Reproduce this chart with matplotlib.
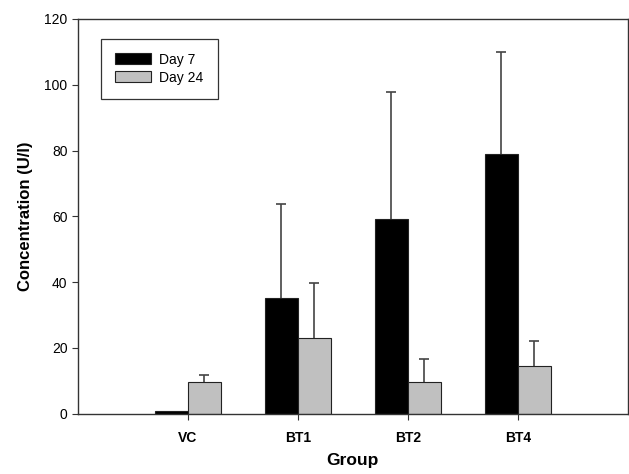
import numpy as np
import matplotlib.pyplot as plt

plt.rcParams["font.family"] = ["Liberation Sans", "DejaVu Sans"]

groups = ["VC", "BT1", "BT2", "BT4"]
day7 = [0.7, 35.3, 59.2, 79.0]
day7_err = [0.0, 28.5, 38.7, 31.0]
day24 = [9.8, 23.1, 9.8, 14.4]
day24_err = [2.0, 16.6, 7.0, 7.6]

x = np.arange(len(groups))
w = 0.3
edge = "#222222"
errc = "#444444"

fig = plt.figure(figsize=(6.29, 4.74), dpi=100)
ax = fig.add_axes([0.124, 0.127, 0.874, 0.833])

ax.bar(x - w / 2, day7, w, color="black", edgecolor=edge, linewidth=0.8,
       label="Day 7", zorder=2)
ax.bar(x + w / 2, day24, w, color="#c0c0c0", edgecolor=edge, linewidth=0.8,
       label="Day 24", zorder=2)

# one-sided error bars: hide the lower caps
for xs, vals, errs in [(x - w / 2, day7, day7_err), (x + w / 2, day24, day24_err)]:
    keep = np.array(errs) > 0
    _, caps, _ = ax.errorbar(xs[keep], np.array(vals)[keep],
                             yerr=[np.zeros(keep.sum()), np.array(errs)[keep]],
                             fmt="none", ecolor=errc, elinewidth=1.2,
                             capsize=3.5, capthick=1.2, zorder=1)
    caps[0].set_visible(False)

ax.set_xlim(-1, 4)
ax.set_ylim(0, 120)
ax.set_yticks(np.arange(0, 121, 20))
ax.set_xticks(x)
ax.set_xticklabels(groups, fontweight="bold", fontsize=10)
ax.tick_params(axis="y", labelsize=10, direction="out", length=4.5,
               color="#333333", pad=3)
ax.tick_params(axis="x", direction="out", length=4.5, color="#333333", pad=8)

for s in ax.spines.values():
    s.set_color("#333333")
    s.set_linewidth(1.0)

ax.set_xlabel("Group", fontsize=12.5, fontweight="bold", labelpad=6)
ax.set_ylabel("Concentration (U/l)", fontsize=12, fontweight="bold", labelpad=8)

leg = ax.legend(loc="upper left", bbox_to_anchor=(0.042, 0.95), fontsize=10,
                fancybox=False, framealpha=1, edgecolor="#333333",
                handlelength=2.6, handleheight=0.85, handletextpad=0.6,
                borderpad=1.0, labelspacing=0.3, borderaxespad=0)
leg.get_frame().set_linewidth(0.9)

fig.savefig("out.png", dpi=100)
